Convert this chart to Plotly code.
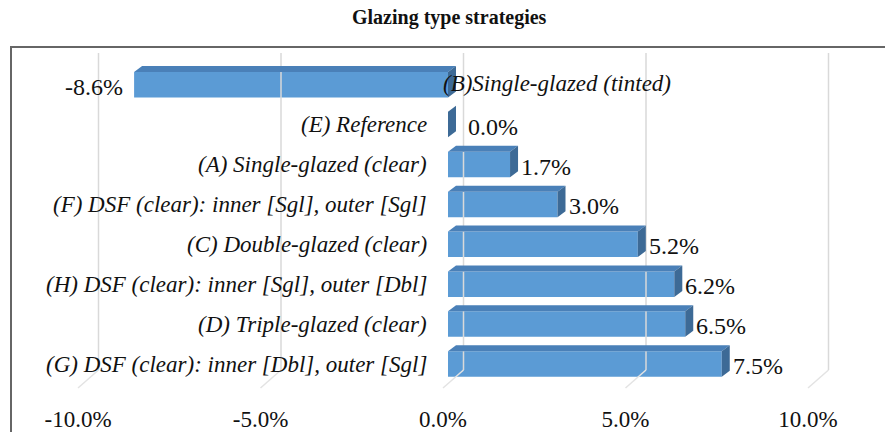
import plotly.graph_objects as go

# ---- data ----
categories = [
    "(B)Single-glazed (tinted)",
    "(E) Reference",
    "(A) Single-glazed (clear)",
    "(F) DSF (clear): inner [Sgl], outer [Sgl]",
    "(C) Double-glazed (clear)",
    "(H) DSF (clear): inner [Sgl], outer [Dbl]",
    "(D) Triple-glazed (clear)",
    "(G) DSF (clear): inner [Dbl], outer [Sgl]",
]
values = [-8.6, 0.0, 1.7, 3.0, 5.2, 6.2, 6.5, 7.5]
tick_values = [-10, -5, 0, 5, 10]
tick_labels = ["-10.0%", "-5.0%", "0.0%", "5.0%", "10.0%"]
title = "Glazing type strategies"

# ---- geometry (pixels -> data units) ----
W, H = 885, 432
ZERO_PX, PX_PER_PCT = 448, 36.5
BASE_PX, PX_PER_ROW = 364, 39.9
xr = [-ZERO_PX / PX_PER_PCT, (W - ZERO_PX) / PX_PER_PCT]
yr = [-(H - BASE_PX) / PX_PER_ROW, BASE_PX / PX_PER_ROW]

n = len(categories)
ypos = [n - 1 - i for i in range(n)]
bar_h = 0.64
dx = 8 / PX_PER_PCT
dy = 6 / PX_PER_ROW
back_dx = 15.5 / PX_PER_PCT
front_dx = -5 / PX_PER_PCT
grid_top = (BASE_PX - 53) / PX_PER_ROW
grid_bot = (BASE_PX - 370) / PX_PER_ROW
floor_front = (BASE_PX - 388) / PX_PER_ROW

FONT = "Liberation Serif, Times New Roman, Tinos, DejaVu Serif, serif"
BLUE = "#5B9BD5"
TOP = "#4A80B8"
SIDE = "#3D6A96"
TXT = "#111111"

fig = go.Figure()

# gridlines (back wall + floor)
gx, gy, fx, fy = [], [], [], []
for t in tick_values:
    gx += [t + back_dx, t + back_dx, None]
    gy += [grid_top, grid_bot, None]
    fx += [t + back_dx, t + front_dx, None]
    fy += [grid_bot, floor_front, None]
fig.add_trace(go.Scatter(x=gx, y=gy, mode="lines", line=dict(color="#D9D9D9", width=1.5),
                         hoverinfo="skip", showlegend=False))
fig.add_trace(go.Scatter(x=fx, y=fy, mode="lines", line=dict(color="#E3E3E3", width=1.5),
                         hoverinfo="skip", showlegend=False))

# front faces
fig.add_trace(go.Bar(x=values, y=ypos, orientation="h", width=bar_h,
                     marker=dict(color=BLUE, line=dict(width=0)), showlegend=False))

# top and side faces
tx, ty, sx, sy = [], [], [], []
for v, y in zip(values, ypos):
    lo, hi = min(0, v), max(0, v)
    yt, yb = y + bar_h / 2, y - bar_h / 2
    tx += [lo, hi, hi + dx, lo + dx, lo, None]
    ty += [yt, yt, yt + dy, yt + dy, yt, None]
    sx += [hi, hi, hi + dx, hi + dx, hi, None]
    sy += [yb, yt, yt + dy, yb + dy, yb, None]
fig.add_trace(go.Scatter(x=tx, y=ty, mode="lines", fill="toself", fillcolor=TOP,
                         line=dict(width=0, color=TOP), hoverinfo="skip", showlegend=False))
fig.add_trace(go.Scatter(x=sx, y=sy, mode="lines", fill="toself", fillcolor=SIDE,
                         line=dict(width=0, color=SIDE), hoverinfo="skip", showlegend=False))

annotations = []
# category labels
for c, v, y in zip(categories, values, ypos):
    if v < 0:
        annotations.append(dict(x=0, y=y, xref="x", yref="y", text=f"<i>{c}</i>",
                                showarrow=False, xanchor="left", xshift=-7, yshift=1,
                                font=dict(family=FONT, size=23, color=TXT)))
    else:
        annotations.append(dict(x=0, y=y, xref="x", yref="y", text=f"<i>{c}</i>",
                                showarrow=False, xanchor="right", xshift=-19,
                                font=dict(family=FONT, size=23, color=TXT)))
# value labels
for v, y in zip(values, ypos):
    txt = f"{v:.1f}%"
    if v < 0:
        annotations.append(dict(x=v, y=y, xref="x", yref="y", text=txt, showarrow=False,
                                xanchor="right", xshift=-9, yshift=-2,
                                font=dict(family=FONT, size=24, color=TXT)))
    else:
        annotations.append(dict(x=v + dx, y=y, xref="x", yref="y", text=txt, showarrow=False,
                                xanchor="left", xshift=1 if v > 0 else 10, yshift=-2,
                                font=dict(family=FONT, size=24, color=TXT)))
# title
annotations.append(dict(x=449 / W, y=1 - 18 / H, xref="paper", yref="paper",
                        xanchor="center", yanchor="middle",
                        text=f"<b>{title}</b>", showarrow=False,
                        font=dict(family=FONT, size=20, color=TXT)))

fig.update_layout(
    width=W, height=H,
    margin=dict(l=0, r=0, t=0, b=0),
    paper_bgcolor="white", plot_bgcolor="rgba(0,0,0,0)",
    xaxis=dict(range=xr, domain=[0, 1], showgrid=False, zeroline=False,
               showticklabels=False, showline=False, fixedrange=True),
    xaxis2=dict(range=[xr[0] - front_dx, xr[1] - front_dx], overlaying="x",
                anchor="free", position=0.066, side="bottom",
                tickvals=tick_values, ticktext=tick_labels, ticks="",
                showgrid=False, zeroline=False, showline=False,
                tickfont=dict(family=FONT, size=23, color=TXT)),
    yaxis=dict(range=yr, domain=[0, 1], showgrid=False, zeroline=False,
               showticklabels=False, showline=False),
    annotations=annotations,
    shapes=[dict(type="rect", xref="paper", yref="paper",
                 x0=11 / W, x1=1.2, y0=-0.2, y1=1 - 47 / H,
                 line=dict(color="#666666", width=2), fillcolor="rgba(0,0,0,0)", layer="below")],
)
# a dummy trace to activate xaxis2 so its tick labels render
fig.add_trace(go.Scatter(x=[tick_values[0]], y=[None], xaxis="x2", mode="markers",
                         showlegend=False, hoverinfo="skip"))

fig.write_html("out.html", config={"displayModeBar": False},
               post_script="document.body.style.margin='0';document.body.style.padding='0';")
